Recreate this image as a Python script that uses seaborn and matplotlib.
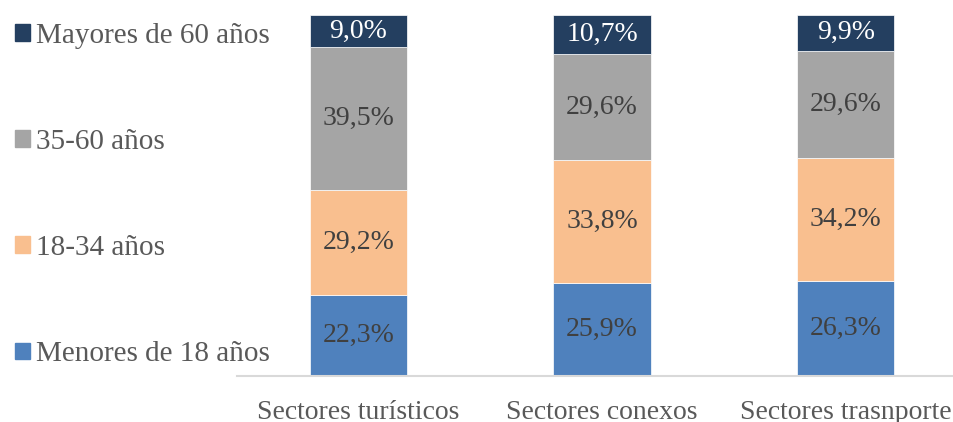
import numpy as np
import pandas as pd
import matplotlib.pyplot as plt
import seaborn as sns
from matplotlib.patches import Patch

sectores = ['Sectores turísticos', 'Sectores conexos', 'Sectores trasnporte']
grupos = ['Menores de 18 años', '18-34 años', '35-60 años', 'Mayores de 60 años']
menores_18 = [22.3, 25.9, 26.3]
de_18_34 = [29.2, 33.8, 34.2]
de_35_60 = [39.5, 29.6, 29.6]
mayores_60 = [9.0, 10.7, 9.9]
colores = ['#4F81BD', '#F9BF8F', '#A5A5A5', '#243F60']
color_etiqueta = ['#404040', '#404040', '#404040', '#FFFFFF']

sns.set_style('white')
plt.rcParams['font.family'] = ['Liberation Serif', 'DejaVu Serif']

df = pd.DataFrame({'sector': sectores, grupos[0]: menores_18, grupos[1]: de_18_34,
                   grupos[2]: de_35_60, grupos[3]: mayores_60})

fig = plt.figure(figsize=(9.54, 4.22), dpi=100)
ax = fig.add_axes([236.75 / 954, 46 / 422, (954 - 236.75) / 954, 361 / 422])

base = np.zeros(len(sectores))
for g, c, tc in zip(grupos, colores, color_etiqueta):
    sns.barplot(data=df, x='sector', y=g, color=c, width=0.4, bottom=base,
                edgecolor='white', linewidth=0.5, ax=ax, saturation=1)
    for i, v in enumerate(df[g]):
        ax.text(i, base[i] + v / 2, f'{v:.1f}%'.replace('.', ','), ha='center', va='center',
                fontsize=20, color=tc)
    base = base + df[g].values

ax.set_ylim(0, 100)
ax.set_xlim(-0.5, 2.5 - (967.5 - 954) / 243.5)
ax.set_xlabel('')
ax.set_ylabel('')
ax.set_yticks([])
ax.tick_params(axis='x', length=0, labelsize=20, labelcolor='#595959', pad=17)
for s in ['top', 'right', 'left']:
    ax.spines[s].set_visible(False)
ax.spines['bottom'].set_color('#D9D9D9')
ax.spines['bottom'].set_linewidth(1.5)

handles = [Patch(color=c, label=g) for g, c in zip(grupos, colores)][::-1]
fig.legend(handles=handles, loc='upper left', bbox_to_anchor=(0.004, 0.974), frameon=False,
           fontsize=21, labelcolor='#595959', handlelength=0.51, handleheight=0.51,
           handletextpad=0.2, labelspacing=2.75, borderaxespad=0)

fig.savefig('out.png', dpi=100)
